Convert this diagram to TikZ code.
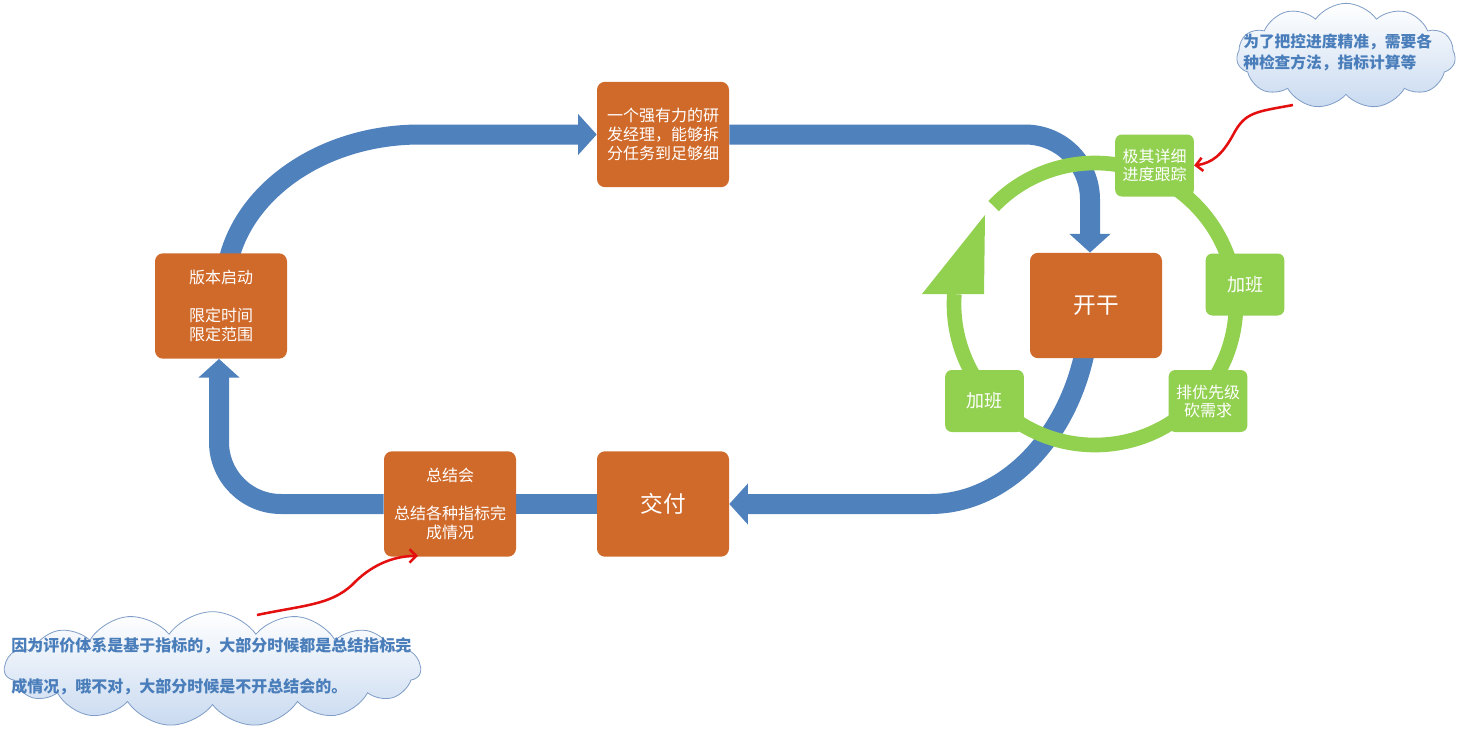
\documentclass[tikz,border=0pt]{standalone}
\usepackage{fontspec}
\setmainfont{Noto Sans CJK SC}
\usetikzlibrary{arrows.meta,shapes.symbols,calc}
\definecolor{bandblue}{HTML}{4F81BD}
\definecolor{boxor}{HTML}{D06A2B}
\definecolor{gr}{HTML}{92D050}
\definecolor{cloudline}{HTML}{7F9DC6}
\definecolor{cloudfill}{HTML}{C9DAF0}
\definecolor{ctext}{HTML}{4A7EBB}
\definecolor{redarrow}{HTML}{E41010}
\pgfdeclarelayer{bg}
\pgfdeclarelayer{mid}
\pgfsetlayers{bg,mid,main}
\begin{document}
\begin{tikzpicture}[x=0.75pt,y=-0.75pt,
  obox/.style={rectangle, rounded corners=6pt, fill=boxor, text=white,
    minimum width=99pt, minimum height=79pt, inner sep=0pt, align=center,
    font=\fontsize{12}{14.25}\selectfont},
  gbox/.style={rectangle, rounded corners=5pt, fill=gr, text=white,
    minimum width=59pt, minimum height=46.5pt, inner sep=0pt, align=center,
    font=\fontsize{12}{13.5}\selectfont},
  bandline/.style={draw=bandblue, line width=15pt},
  bandarrow/.style={bandline, -{Triangle[width=30pt,length=14pt]}},
  ringline/.style={draw=gr, line width=11pt},
  cloudbox/.style={cloud, cloud ignores aspect, draw=cloudline, line width=0.6pt,
    top color=white, bottom color=cloudfill, inner sep=0pt},
  ctxt/.style={text=ctext, anchor=west, align=left, inner sep=0pt},
  redline/.style={draw=redarrow, line width=1.9pt, -{Straight Barb[length=5pt,width=10pt]}}
]
\useasboundingbox (0,0) rectangle (1457,729);

% orange boxes
\node[obox] (ban) at (221,306) {版本启动\\[14.25pt]限定时间\\限定范围};
\node[obox] (yan) at (663,134.5) {一个强有力的研\\发经理，能够拆\\分任务到足够细};
\node[obox, font=\fontsize{17}{20}\selectfont] (kai) at (1096,305.5) {开干};
\node[obox, font=\fontsize{17}{20}\selectfont] (jiao) at (663,504) {交付};
\node[obox] (zong) at (450,504) {总结会\\[14.25pt]总结各种指标完\\成情况};

% green boxes
\node[gbox] (jq) at (1154.5,165.5) {极其详细\\进度跟踪};
\node[gbox, font=\fontsize{13.5}{15}\selectfont] (jb1) at (1245,284.5) {加班};
\node[gbox] (pyx) at (1208,401) {排优先级\\砍需求};
\node[gbox, font=\fontsize{13.5}{15}\selectfont] (jb2) at (984.5,401) {加班};

% blue band
\begin{pgfonlayer}{bg}
\fill[white] (0,0) rectangle (1457,729);
\draw[bandarrow] ($(ban.center)+(4,-16)$) .. controls (225,204) and (312,134.5) .. (420,134.5) -- (yan.west);
\draw[bandarrow] (yan.east) -- (1025,134.5) arc[start angle=90, end angle=0, radius=48.75pt] -- ($(kai.north)+(-6,0)$);
\draw[bandarrow] ($(kai.center)+(-6,-5)$) .. controls (1090,412) and (1018,504) .. (930,504) -- (jiao.east);
\draw[bandline] (jiao.west) -- (zong.east);
\draw[bandarrow] (zong.west) -- (281,504) arc[start angle=270, end angle=180, radius=46.5pt] -- ($(ban.south)+(-2,0)$);
\end{pgfonlayer}

% green cycle
\begin{pgfonlayer}{mid}
\coordinate (rc) at (1095,304);
\draw[ringline] (rc) ++(136:105.75pt) arc[start angle=136, end angle=-184, radius=105.75pt];
\fill[gr] (985,215) -- (922,294) -- (984,294) -- cycle;
\end{pgfonlayer}

% clouds
\node[cloudbox, cloud puffs=11, cloud puff arc=110, minimum width=164pt, minimum height=79pt] (c1) at (1346,56) {};
\node[ctxt, font=\bfseries\fontsize{11.8}{15.75}\selectfont] (t1) at (1243,52.5) {为了把控进度精准，需要各\\种检查方法，指标计算等};

\node[cloudbox, cloud puffs=15, cloud puff arc=110, minimum width=312pt, minimum height=86pt] (c2) at (212.5,669) {};
\node[ctxt, font=\bfseries\fontsize{12}{30.75}\selectfont] (t2) at (11,666.5) {因为评价体系是基于指标的，大部分时候都是总结指标完\\成情况，哦不对，大部分时候是不开总结会的。};

% red arrows
\coordinate (r1s) at (1293,105);
\coordinate (r2s) at (257,615);
\draw[redline] (r1s) .. controls (1255,112) and (1245,112) .. (1233,135) .. controls (1222,155) and (1212,163) .. (jq.east);
\draw[redline] (r2s) .. controls (305,605) and (330,605) .. (352,585) .. controls (370,566) and (392,556) .. ($(zong.south)+(-32,-1)$);
\end{tikzpicture}
\end{document}
